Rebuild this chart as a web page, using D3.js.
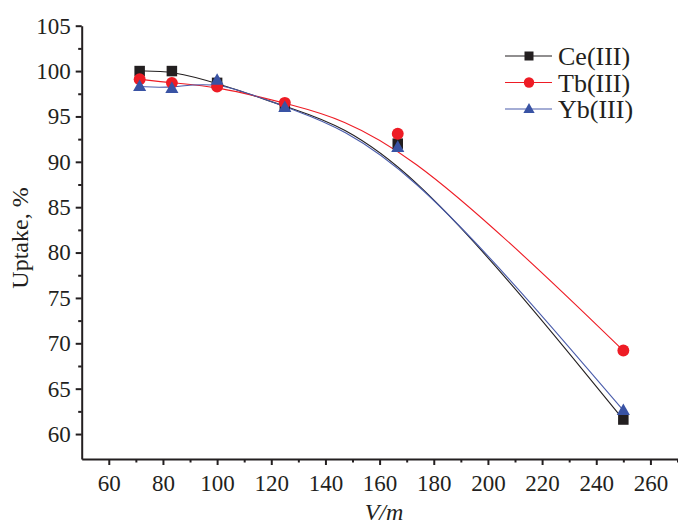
<!DOCTYPE html>
<html>
<head>
<style>
  body {
    background-color: white;
    margin: 0px;
  }
  text {
    font-family: "Liberation Serif", "Times New Roman", serif;
    fill: #231f20;
  }
  .axis path, .axis line {
    stroke: #231f20;
  }
</style>
<script src="https://d3js.org/d3.v7.min.js"></script>
</head>
<body>
<svg></svg>
<script>
// V/m ratios
const vm = [71.4, 83.3, 100, 125, 166.7, 250];
const ce = [100.0, 100.0, 98.7, 96.1, 92.0, 61.6];
const tb = [99.1, 98.7, 98.3, 96.5, 93.1, 69.2];
const yb = [98.3, 98.1, 99.0, 96.0, 91.6, 62.6];
const seriesNames = ["Ce(III)", "Tb(III)", "Yb(III)"];
const xTicks = [60, 80, 100, 120, 140, 160, 180, 200, 220, 240, 260];
const yTicks = [60, 65, 70, 75, 80, 85, 90, 95, 100, 105];

const width = 678, height = 526;

const svg = d3.select("svg")
    .attr("width", width)
    .attr("height", height);

const x = d3.scaleLinear().domain([50, 270]).range([81.7, 677.5]);
const y = d3.scaleLinear().domain([57.25, 105]).range([459, 25.7]);

const series = [
  {name: seriesNames[0], values: ce, line: "#231f20", fill: "#231f20", shape: "square"},
  {name: seriesNames[1], values: tb, line: "#ee1c25", fill: "#ee1c25", shape: "circle"},
  {name: seriesNames[2], values: yb, line: "#4a5cab", fill: "#3953a4", shape: "triangle"}
];

// minor ticks
svg.append("g")
    .attr("class", "axis")
    .attr("transform", "translate(0," + y.range()[0] + ")")
    .call(d3.axisBottom(x).tickValues(d3.range(70, 271, 20)).tickSize(3.5).tickFormat(""))
    .call(g => g.select(".domain").remove());

svg.append("g")
    .attr("class", "axis")
    .attr("transform", "translate(" + x.range()[0] + ",0)")
    .call(d3.axisLeft(y).tickValues(d3.range(62.5, 105, 5)).tickSize(3.5).tickFormat(""))
    .call(g => g.select(".domain").remove());

const xAxis = svg.append("g")
    .attr("class", "axis")
    .attr("transform", "translate(0," + y.range()[0] + ")")
    .call(d3.axisBottom(x).tickValues(xTicks).tickSize(6).tickSizeOuter(0).tickPadding(6));

const yAxis = svg.append("g")
    .attr("class", "axis")
    .attr("transform", "translate(" + x.range()[0] + ",0)")
    .call(d3.axisLeft(y).tickValues(yTicks).tickSize(6).tickSizeOuter(0).tickPadding(5));

svg.selectAll(".axis path, .axis line").style("stroke-width", 2);
xAxis.selectAll("text").style("font-size", "23px").attr("dy", "0.85em");
yAxis.selectAll("text").style("font-size", "23px");

svg.append("text")
    .attr("transform", "translate(28,238) rotate(-90)")
    .attr("text-anchor", "middle")
    .style("font-size", "24px")
    .text("Uptake, %");

svg.append("text")
    .attr("x", 384)
    .attr("y", 520)
    .attr("text-anchor", "middle")
    .style("font-size", "24px")
    .style("font-style", "italic")
    .text("V/m");

const line = d3.line()
    .x(function(d, i) {return x(vm[i])})
    .y(function(d) {return y(d)})
    .curve(d3.curveBasis);

function marker(sel, shape, size) {
  if (shape == "square") {
    return sel.append("rect")
        .attr("x", -size / 2).attr("y", -size / 2)
        .attr("width", size).attr("height", size);
  } else if (shape == "circle") {
    return sel.append("circle").attr("r", size / 2 + 0.7);
  }
  const w = size * 1.25, h = size * 1.1;
  return sel.append("path")
      .attr("d", "M0," + (-h * 0.6) + "L" + (w / 2) + "," + (h * 0.4) + "L" + (-w / 2) + "," + (h * 0.4) + "Z");
}

series.forEach(function(s) {
  svg.append("path")
      .datum(s.values)
      .attr("d", line)
      .style("fill", "none")
      .style("stroke", s.line)
      .style("stroke-width", 1.1);
});

series.forEach(function(s) {
  svg.append("g").selectAll("g")
      .data(s.values)
    .enter().append("g")
      .attr("transform", function(d, i) {return "translate(" + x(vm[i]) + "," + y(d) + ")"})
      .each(function() {
        marker(d3.select(this), s.shape, 10.5).style("fill", s.fill);
      });
});

// legend
const legend = svg.append("g");
series.forEach(function(s, i) {
  const ly = 56 + i * 26.5;
  legend.append("line")
      .attr("x1", 505).attr("x2", 552)
      .attr("y1", ly).attr("y2", ly)
      .style("stroke", s.line)
      .style("stroke-width", 1.1);
  marker(legend.append("g").attr("transform", "translate(529," + ly + ")"), s.shape, 9)
      .style("fill", s.fill);
  legend.append("text")
      .attr("x", 558)
      .attr("y", ly)
      .attr("dy", "0.35em")
      .style("font-size", "26px")
      .text(s.name);
});
</script>
</body>
</html>
